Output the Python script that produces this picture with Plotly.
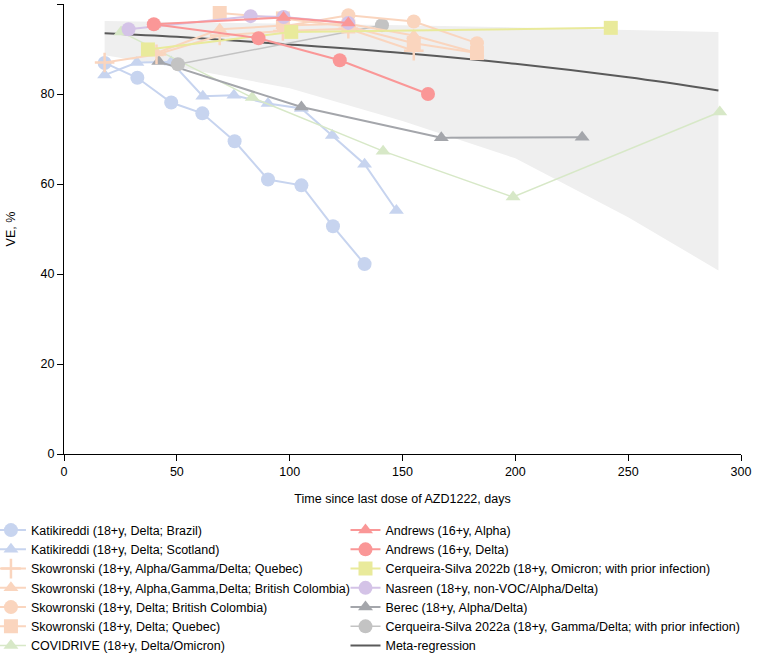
import plotly.graph_objects as go

# ---------------- data ----------------
kat_bra_x = [18.0, 32.5, 47.5, 61.3, 75.6, 90.4, 105.2, 119.2, 133.2]
kat_bra_y = [86.9, 83.6, 78.1, 75.7, 69.5, 61.0, 59.7, 50.6, 42.2]

kat_sco_x = [18.0, 32.3, 47.5, 61.5, 75.3, 90.4, 105.2, 118.9, 133.2, 147.3]
kat_sco_y = [84.2, 87.0, 87.1, 79.5, 79.7, 77.9, 76.8, 70.8, 64.4, 54.1]

sko_q_agd_x = [18.0, 41.0, 69.0, 97.0, 126.0, 155.0]
sko_q_agd_y = [87.0, 88.8, 93.0, 94.0, 94.5, 89.6]

sko_bc_agd_x = [41.0, 69.0, 97.0, 126.0, 155.0, 183.0]
sko_bc_agd_y = [89.1, 94.4, 95.2, 95.6, 93.0, 89.1]

sko_bc_d_x = [97.0, 126.0, 155.0, 183.0]
sko_bc_d_y = [95.0, 97.5, 96.1, 91.3]

sko_q_d_x = [69.0, 97.0, 126.0, 155.0, 183.0]
sko_q_d_y = [98.0, 96.8, 95.0, 91.3, 89.1]

covidrive_x = [25.3, 83.4, 141.4, 199.0, 290.6]
covidrive_y = [93.8, 79.2, 67.3, 57.1, 76.0]

andrews_a_x = [39.8, 97.3, 126.0]
andrews_a_y = [95.5, 97.0, 95.8]

andrews_d_x = [39.8, 86.2, 122.2, 161.3]
andrews_d_y = [95.5, 92.4, 87.5, 80.0]

cs_b_x = [37.2, 100.7, 242.3]
cs_b_y = [89.9, 93.8, 94.7]

nasreen_x = [28.6, 82.7, 97.3, 126.0]
nasreen_y = [94.4, 97.3, 97.1, 95.8]

berec_x = [42.0, 105.2, 167.2, 229.6]
berec_y = [87.2, 77.1, 70.3, 70.4]

cs_a_x = [50.5, 140.9]
cs_a_y = [86.6, 95.3]

meta_x = [18, 50, 100, 150, 200, 250, 290]
meta_y = [93.5, 92.7, 91.0, 89.1, 86.7, 83.7, 80.8]
band_upper = [96.2, 96.0, 95.7, 95.3, 94.8, 94.3, 93.8]
band_lower = [88.6, 86.0, 81.3, 74.0, 65.7, 52.6, 40.8]

x_ticks = [0, 50, 100, 150, 200, 250, 300]
y_ticks = [0, 20, 40, 60, 80, 100]

# ---------------- style ----------------
BLUE = "#c7d4ef"
PEACH = "#fad5be"
GREEN = "#d7e8c7"
RED = "#fa9797"
YELLOW = "#e9ea9b"
PURPLE = "#d4c3e7"
BEREC = "#a4a6ab"
GREYC = "#c3c3c3"
META = "#5a5a5a"
FONT = "Arial, Liberation Sans, sans-serif"
FS = 12.5

fig = go.Figure()

# confidence band
fig.add_trace(go.Scatter(
    x=meta_x + meta_x[::-1], y=band_upper + band_lower[::-1],
    fill="toself", fillcolor="#efefef", line=dict(width=0),
    mode="lines", hoverinfo="skip", showlegend=False))

# meta-regression line
fig.add_trace(go.Scatter(
    x=meta_x, y=meta_y, mode="lines", name="Meta-regression",
    line=dict(color=META, width=2, shape="spline"),
    legend="legend2", legendrank=14))


def series(x, y, name, color, symbol, legend, rank, size=14, lw=2):
    if symbol == "triangle-up":
        size = 13
    marker = dict(color=color, symbol=symbol, size=size, line=dict(width=0))
    if symbol == "cross-thin":
        marker = dict(color=color, symbol=symbol, size=size,
                      line=dict(width=2.5, color=color))
    fig.add_trace(go.Scatter(
        x=x, y=y, mode="lines+markers", name=name,
        line=dict(color=color, width=lw), marker=marker,
        legend=legend, legendrank=rank, cliponaxis=False))


series(kat_bra_x, kat_bra_y, "Katikireddi (18+y, Delta; Brazil)", BLUE, "circle", "legend", 1)
series(kat_sco_x, kat_sco_y, "Katikireddi (18+y, Delta; Scotland)", BLUE, "triangle-up", "legend", 2)
series(covidrive_x, covidrive_y, "COVIDRIVE (18+y, Delta/Omicron)", GREEN, "triangle-up", "legend", 7, lw=1.5)
series(berec_x, berec_y, "Berec (18+y, Alpha/Delta)", BEREC, "triangle-up", "legend2", 12)
series(cs_a_x, cs_a_y, "Cerqueira-Silva 2022a (18+y, Gamma/Delta; with prior infection)", GREYC, "circle", "legend2", 13, lw=1.5)
series(sko_q_agd_x, sko_q_agd_y, "Skowronski (18+y, Alpha/Gamma/Delta; Quebec)", PEACH, "cross-thin", "legend", 3)
series(sko_bc_agd_x, sko_bc_agd_y, "Skowronski (18+y, Alpha,Gamma,Delta; British Colombia)", PEACH, "triangle-up", "legend", 4)
series(sko_bc_d_x, sko_bc_d_y, "Skowronski (18+y, Delta; British Colombia)", PEACH, "circle", "legend", 5)
series(sko_q_d_x, sko_q_d_y, "Skowronski (18+y, Delta; Quebec)", PEACH, "square", "legend", 6)
series(cs_b_x, cs_b_y, "Cerqueira-Silva 2022b (18+y, Omicron; with prior infection)", YELLOW, "square", "legend2", 10)
series(nasreen_x, nasreen_y, "Nasreen (18+y, non-VOC/Alpha/Delta)", PURPLE, "circle", "legend2", 11)
series(andrews_d_x, andrews_d_y, "Andrews (16+y, Delta)", RED, "circle", "legend2", 9)
series(andrews_a_x, andrews_a_y, "Andrews (16+y, Alpha)", RED, "triangle-up", "legend2", 8)

axis_common = dict(showgrid=False, zeroline=False, showline=True, linecolor="black",
                   linewidth=1, ticks="outside", ticklen=6, tickcolor="black",
                   tickfont=dict(family=FONT, size=FS, color="black"))

leg_common = dict(xanchor="left", yanchor="top",
                  font=dict(family=FONT, size=FS), bgcolor="rgba(0,0,0,0)",
                  tracegroupgap=0, itemwidth=30)

fig.update_layout(
    width=762, height=653,
    margin=dict(l=64, r=21, t=4, b=199, autoexpand=False),
    plot_bgcolor="white", paper_bgcolor="white",
    font=dict(family=FONT, size=FS, color="black"),
    xaxis=dict(range=[0, 300], tickvals=x_ticks,
               title=dict(text="Time since last dose of AZD1222, days",
                          font=dict(family=FONT, size=FS), standoff=16),
               **axis_common),
    yaxis=dict(range=[0, 100], tickvals=y_ticks,
               title=dict(text="VE, %", font=dict(family=FONT, size=FS), standoff=22),
               **axis_common),
    legend=dict(x=-0.1079, y=-0.1366, **leg_common),
    legend2=dict(x=0.4158, y=-0.1366, **leg_common),
    showlegend=True,
)

fig.write_html("out.html", config={"displayModeBar": False},
               post_script="document.body.style.margin='0px';")
